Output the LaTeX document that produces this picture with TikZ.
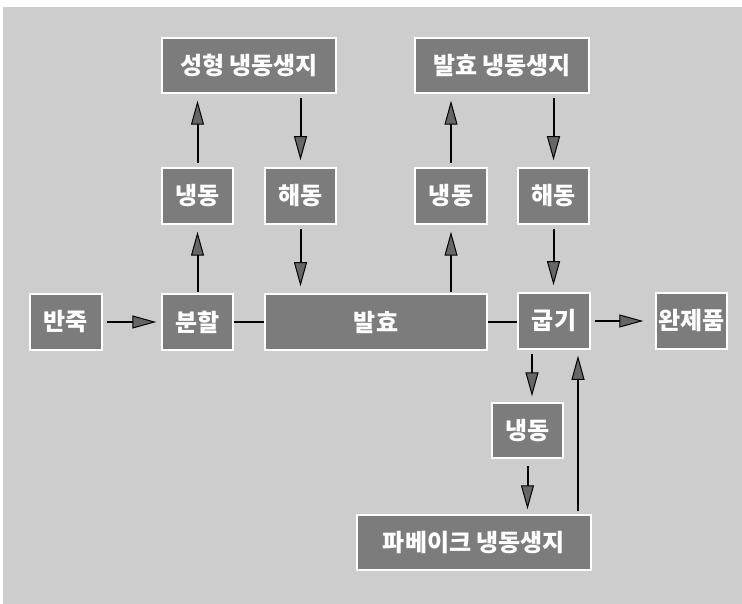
\documentclass[tikz,border=0pt]{standalone}
\usepackage{fontspec}
\newfontfamily\kr{Noto Sans CJK KR}
\usetikzlibrary{arrows.meta}
\definecolor{bg}{HTML}{CDCDCD}
\definecolor{boxfill}{HTML}{7C7C7C}
\definecolor{headfill}{HTML}{666666}
\begin{document}
\begin{tikzpicture}[x=1pt,y=-1pt,
  box/.style={draw=white,line width=1.5pt,fill=boxfill,text=white,inner sep=0pt,
    font=\kr\bfseries\fontsize{24}{28}\selectfont},
  flow/.style={draw=black,line width=2pt,
    -{Triangle[length=24pt,width=13pt,fill=headfill,line width=1pt]},
    shorten <=4pt,shorten >=7pt},
  link/.style={draw=black,line width=2pt}]
\useasboundingbox (0,0) rectangle (742,604);
\fill[white] (0,0) rectangle (742,604);
\fill[bg] (3,7) rectangle (742,604);
% boxes
\node[box,minimum width=174pt,minimum height=55pt] (A) at (249,65.5) {성형 냉동생지};
\node[box,minimum width=174pt,minimum height=55pt] (B) at (502,65.5) {발효 냉동생지};
\node[box,minimum width=71pt,minimum height=56pt] (C) at (197.5,196) {냉동};
\node[box,minimum width=71pt,minimum height=56pt] (D) at (300.5,196) {해동};
\node[box,minimum width=72pt,minimum height=56pt] (E) at (451,196) {냉동};
\node[box,minimum width=71pt,minimum height=56pt] (F) at (553.5,196) {해동};
\node[box,minimum width=72pt,minimum height=56pt] (G) at (66,322) {반죽};
\node[box,minimum width=71pt,minimum height=56pt] (H) at (197.5,322) {분할};
\node[box,minimum width=222pt,minimum height=56pt] (I) at (376,322) {발효};
\node[box,minimum width=72pt,minimum height=56pt] (J) at (554,321) {굽기};
\node[box,minimum width=71pt,minimum height=56pt] (K) at (691.5,321) {완제품};
\node[box,minimum width=71pt,minimum height=55pt] (L) at (527.5,430.5) {냉동};
\node[box,minimum width=234pt,minimum height=55pt] (M) at (474,542.5) {파베이크 냉동생지};
% connectors
\draw[flow,shorten <=1pt] (H.north) -- (C.south);
\draw[flow] (C.north) -- (A.south -| C.north);
\draw[flow] (A.south -| D.north) -- (D.north);
\draw[flow] (D.south) -- (I.north -| D.south);
\draw[flow,shorten <=1pt] (I.north -| E.south) -- (E.south);
\draw[flow] (E.north) -- (B.south -| E.north);
\draw[flow] (B.south -| F.north) -- (F.north);
\draw[flow] (F.south) -- (J.north -| F.south);
\draw[flow,shorten >=5pt] (G.east) -- (H.west);
\draw[link] (H.east) -- (I.west);
\draw[link] (I.east) -- (J.west |- I.east);
\draw[flow,shorten >=12pt] (J.east) -- (K.west);
\coordinate (j1) at ([xshift=-22pt]J.south);
\draw[flow,shorten >=6pt] (j1) -- (L.north -| j1);
\draw[flow,shorten <=7pt,shorten >=5pt] (L.south) -- (M.north -| L.south);
\coordinate (j2) at ([xshift=24pt]J.south);
\draw[flow,shorten <=3pt,shorten >=6pt] (M.north -| j2) -- (j2);
\end{tikzpicture}
\end{document}
